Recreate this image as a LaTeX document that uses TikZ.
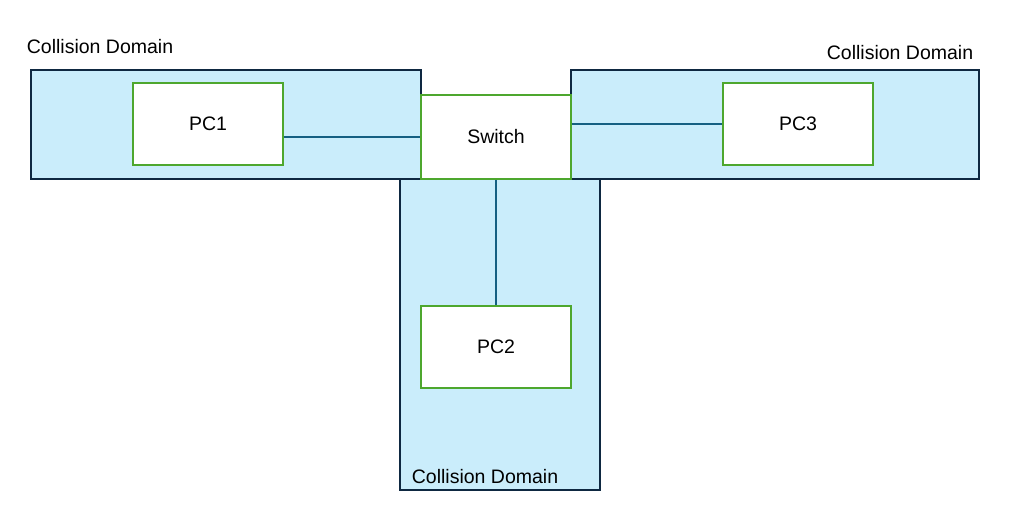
\documentclass[tikz,border=0pt]{standalone}
\usepackage{fontspec}
\setmainfont{Liberation Sans}
\usetikzlibrary{positioning}
\definecolor{domainfill}{HTML}{CAEDFB}
\definecolor{domainline}{HTML}{0E2841}
\definecolor{boxgreen}{HTML}{4EA72E}
\definecolor{linkblue}{HTML}{156082}

\begin{document}
\begin{tikzpicture}[x=0.02cm,y=-0.02cm,thick,font=\fontsize{11.1}{13}\selectfont,
    domain box/.style={rectangle,draw=domainline,fill=domainfill,line width=1.1pt,inner sep=0},
    pc node/.style={rectangle,draw=boxgreen,fill=white,line width=1.1pt,minimum width=3cm,minimum height=1.64cm}]

            \useasboundingbox (0,0) rectangle (1024,522);

            % collision domains
            \node[domain box, minimum width=7.8cm, minimum height=2.18cm] (leftdom) at (226,124.5) {};
            \node[domain box, minimum width=8.16cm, minimum height=2.18cm] (rightdom) at (775,124.5) {};
            \node[domain box, minimum width=4cm, minimum height=6.22cm] (bottomdom) at (500,334.5) {};

            \node (lefttag) at (100,47) {Collision Domain};
            \node (righttag) at (900,53) {Collision Domain};
            \node (bottomtag) at (485,477) {Collision Domain};

            % devices
            \node[pc node, minimum height=1.68cm] (sw) at (496,137) {Switch};
            \node[pc node] (pc1) at (208,124) {PC1};
            \node[pc node] (pc3) at (798,124) {PC3};
            \node[pc node] (pc2) at (496,347) {PC2};

            \path[draw=linkblue, line width=0.9pt]
                (sw.west -| pc1.east) edge (sw.west)
                (sw.east |- pc3.west) edge (pc3.west)
                (sw.south) edge (pc2.north)
                ;
        \end{tikzpicture}
\end{document}
